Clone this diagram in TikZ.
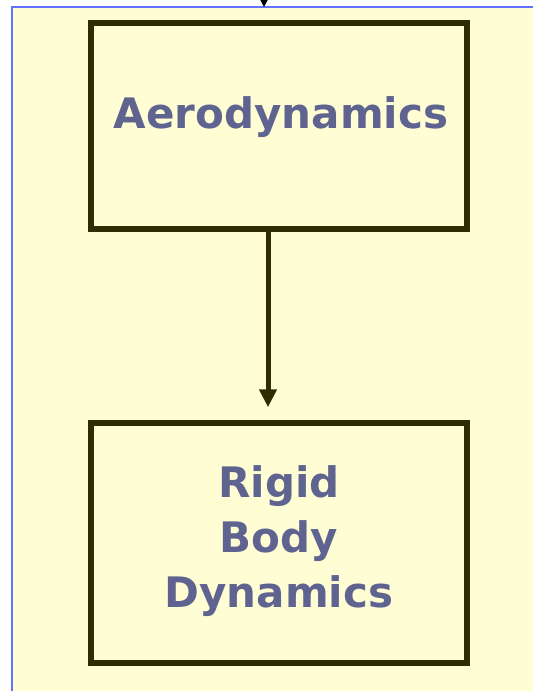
\documentclass[tikz,border=0pt]{standalone}
\usepackage{fontspec}
\setsansfont{DejaVu Sans}
\usetikzlibrary{arrows.meta}
\definecolor{paneyellow}{HTML}{FFFDD3}
\definecolor{paneblue}{HTML}{6470FF}
\definecolor{boxedge}{HTML}{2E2B05}
\definecolor{labelblue}{HTML}{5F6390}

\begin{document}
\begin{tikzpicture}[
  x=0.5pt, y=-0.5pt,
  block/.style={
    draw=boxedge, line width=2.75pt, rectangle,
    minimum width=188pt, inner sep=0pt
  },
  blocktext/.style={
    text=labelblue, font=\sffamily\bfseries\fontsize{21}{27.5}\selectfont,
    align=center, inner sep=0pt, anchor=base
  },
  arr/.style={-{Triangle[length=9pt, width=8.5pt]}, line width=2.5pt, draw=boxedge},
  feed/.style={-{Triangle[length=3.5pt, width=3.5pt]}, line width=0.7pt, black},
]
\useasboundingbox (0,0) rectangle (533,691);
% pane behind the two blocks
\fill[white] (0,0) rectangle (533,691);
\filldraw[fill=paneyellow, draw=paneblue, line width=1pt] (12,7) rectangle (545,705);
\coordinate (panetop) at (264,7);
\coordinate (feedin)  at (264,-10);

\node[block, minimum height=103pt] (aero)  at (279,126) {};
\node[block, minimum height=120pt] (rigid) at (279,543) {};
\node[blocktext] (aerotext)  at (281,128) {Aerodynamics};
\node[blocktext] (rigidtext) at (279,607) {Rigid\\Body\\Dynamics};

\draw[feed] (feedin) -- (panetop);
\draw[arr] (aero.south -| 268,0) -- ([yshift=6.5pt]rigid.north -| 268,0);
\end{tikzpicture}
\end{document}
